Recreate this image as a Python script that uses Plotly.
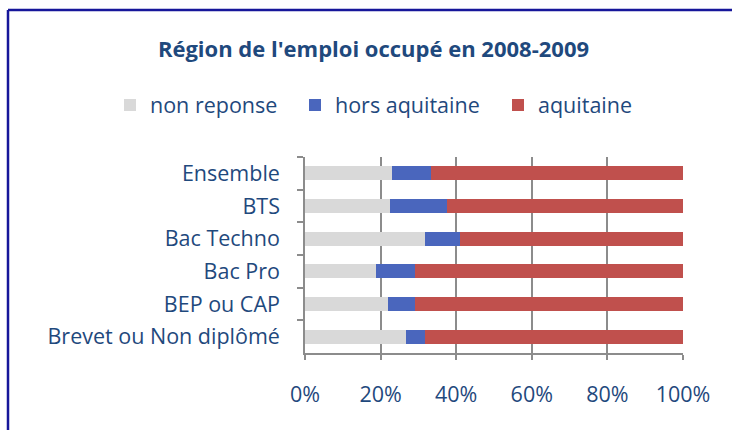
import plotly.graph_objects as go

categories = ["Ensemble", "BTS", "Bac Techno", "Bac Pro", "BEP ou CAP", "Brevet ou Non diplômé"]
non_reponse = [23.0, 22.5, 31.7, 18.8, 21.9, 26.6]
hors_aquitaine = [10.3, 15.0, 9.3, 10.4, 7.3, 5.1]
aquitaine = [66.7, 62.5, 59.0, 70.8, 70.8, 68.3]
x_ticks = [0, 20, 40, 60, 80, 100]
x_tick_labels = ["0%", "20%", "40%", "60%", "80%", "100%"]

TXT = "#1F497D"
FONT = "'Open Sans', Lato, sans-serif"
FS = 21.5
W, H = 732, 430
L, R, T, B = 305, 49, 157, 77
pw, ph = W - L - R, H - T - B

fig = go.Figure()
fig.add_trace(go.Bar(y=categories, x=non_reponse, orientation="h", name="non reponse",
                     legend="legend", showlegend=True,
                     marker=dict(color="#D9D9D9", line=dict(width=0))))
fig.add_trace(go.Bar(y=categories, x=hors_aquitaine, orientation="h", name="hors aquitaine",
                     legend="legend2", showlegend=True,
                     marker=dict(color="#4A66BD", line=dict(width=0))))
fig.add_trace(go.Bar(y=categories, x=aquitaine, orientation="h", name="aquitaine",
                     legend="legend3", showlegend=True,
                     marker=dict(color="#C0504D", line=dict(width=0))))

def px2px(xp):
    return (xp - L) / pw

def py2py(yp):
    return (H - B - yp) / ph

def legend_at(xpix):
    return dict(orientation="h", xref="paper", yref="paper",
                x=px2px(xpix), xanchor="left",
                y=py2py(105), yanchor="middle",
                font=dict(family=FONT, size=FS, color=TXT),
                itemwidth=30, bgcolor="rgba(0,0,0,0)")

fig.update_layout(
    width=W, height=H,
    showlegend=True,
    margin=dict(l=L, r=R, t=T, b=B, autoexpand=False),
    barmode="stack", bargap=0.57,
    paper_bgcolor="white", plot_bgcolor="white",
    font=dict(family=FONT, color=TXT, size=FS),
    title=dict(text="<b>Région de l'emploi occupé en 2008-2009</b>",
               x=373.5 / W, xanchor="center", xref="container",
               y=1 - 49 / H, yanchor="middle",
               font=dict(family=FONT, size=22, color=TXT)),
    legend=legend_at(110),
    legend2=legend_at(295),
    legend3=legend_at(498),
    xaxis=dict(range=[0, 100], tickvals=x_ticks, ticktext=x_tick_labels,
               showgrid=True, gridcolor="#8C8C8C", gridwidth=1.5,
               showline=True, linecolor="#8C8C8C", linewidth=1.5,
               ticks="outside", ticklen=5, tickcolor="#8C8C8C", tickwidth=1.5,
               ticklabelstandoff=16, zeroline=False, automargin=False,
               tickfont=dict(family=FONT, size=FS, color=TXT), fixedrange=True),
    yaxis=dict(categoryorder="array", categoryarray=categories, autorange="reversed",
               showline=True, linecolor="#8C8C8C", linewidth=1.5,
               ticks="outside", ticklen=6, tickcolor="#8C8C8C", tickwidth=1.5,
               tickson="boundaries", ticklabelstandoff=19, showgrid=False,
               automargin=False,
               tickfont=dict(family=FONT, size=FS, color=TXT), fixedrange=True),
)

# outer chart border (top and left edges visible, rest cropped)
fig.add_shape(type="line", xref="paper", yref="paper",
              x0=px2px(8), x1=px2px(740), y0=py2py(10), y1=py2py(10),
              line=dict(color="#16169A", width=2.5))
fig.add_shape(type="line", xref="paper", yref="paper",
              x0=px2px(8), x1=px2px(8), y0=py2py(10), y1=py2py(440),
              line=dict(color="#16169A", width=2.5))

fig.write_html("out.html", config={"displayModeBar": False},
               post_script="document.body.style.margin='0';document.body.style.overflow='hidden';")
